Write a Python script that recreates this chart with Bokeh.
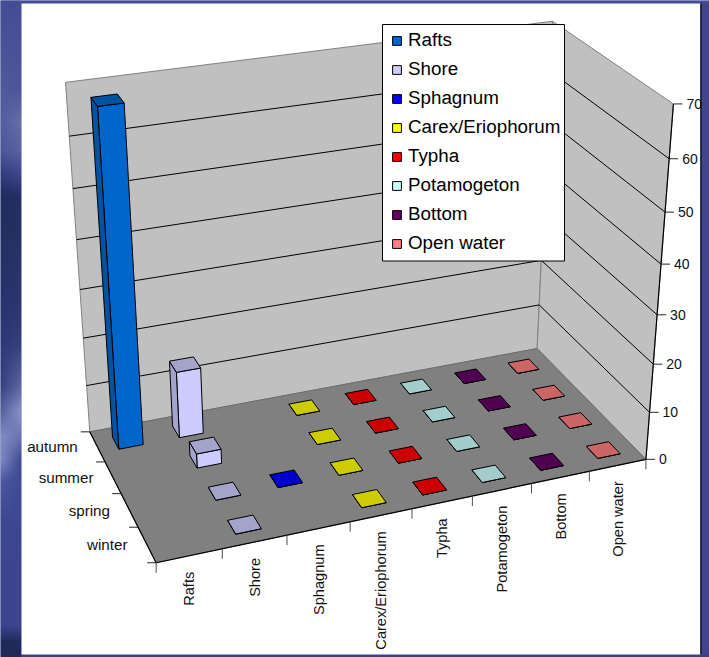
import numpy as np
from bokeh.core.properties import value
from bokeh.embed import file_html
from bokeh.models import ColumnDataSource, Legend, LegendItem, Range1d
from bokeh.plotting import figure
from bokeh.resources import INLINE

# Wetland habitat shares by season; NaN means the bar is absent from the chart.
seasons = ["winter", "spring", "summer", "autumn"]
categories = ["Rafts", "Shore", "Sphagnum", "Carex/Eriophorum", "Typha",
              "Potamogeton", "Bottom", "Open water"]
nan = float("nan")
rafts = [nan, nan, nan, 68]
shore = [0, 0, 3, 14]
sphagnum = [nan, 0, nan, nan]
carex = [0, 0, 0, 0]
typha = [0, 0, 0, 0]
potamogeton = [0, 0, 0, 0]
bottom = [0, 0, 0, 0]
open_water = [0, 0, 0, 0]
series = [rafts, shore, sphagnum, carex, typha, potamogeton, bottom, open_water]

front_colors = ["#0066CC", "#CCCCFF", "#0000FF", "#FFFF00", "#FF0000", "#CCFFFF", "#660066", "#FF8080"]
shade_colors = ["#0052A3", "#A3A3CC", "#0000CC", "#CCCC00", "#CC0000", "#A3CCCC", "#520052", "#CC6666"]
y_ticks = [0, 10, 20, 30, 40, 50, 60, 70]
Y_MAX = 70

# Calibration of the 3D box: (category, season, value) -> page position.
box_model = [(0, 0, 0), (8, 0, 0), (8, 4, 0), (0, 4, 0), (0, 4, Y_MAX), (8, 4, Y_MAX), (8, 0, Y_MAX)]
box_page = [(156, 562.5), (645, 459), (537, 348), (89, 431), (65, 82), (552, 21), (673, 103)]


def fit_camera(model, page):
    rows, rhs = [], []
    for (a, b, c), (x, y) in zip(model, page):
        c = c / Y_MAX * 4
        rows.append([a, b, c, 1, 0, 0, 0, 0, -x * a, -x * b, -x * c])
        rhs.append(x)
        rows.append([0, 0, 0, 0, a, b, c, 1, -y * a, -y * b, -y * c])
        rhs.append(y)
    sol = np.linalg.lstsq(np.array(rows, float), np.array(rhs, float), rcond=None)[0]
    return np.append(sol, 1.0).reshape(3, 4)


CAMERA = fit_camera(box_model, box_page)


def project(a, b, c):
    h = CAMERA @ np.array([a, b, c / Y_MAX * 4, 1.0])
    return float(h[0] / h[2]), float(h[1] / h[2])


def poly(*pts):
    xy = [project(*pt) for pt in pts]
    return [q[0] for q in xy], [q[1] for q in xy]


p = figure(width=709, height=657, output_backend="svg", toolbar_location=None,
           x_range=Range1d(0, 709), y_range=Range1d(657, 0), min_border=0,
           outline_line_color=None, x_axis_type=None, y_axis_type=None)
p.grid.visible = False
p.background_fill_color = "#3c478f"
p.border_fill_color = "#3c478f"

# Slide backdrop: a soft blue wash down the left margin, flat frame elsewhere.
wash_y = [0, 90, 120, 150, 172, 195, 225, 300, 340, 385, 410, 435, 460, 480, 520, 625, 640, 657]
wash_inner = [(0x44, 0x4E, 0x95), (0x4C, 0x57, 0x9A), (0x66, 0x6F, 0xA8), (0x5A, 0x64, 0xA2), (0x3E, 0x49, 0x8E),
              (0x25, 0x2F, 0x66), (0x25, 0x30, 0x62), (0x2A, 0x36, 0x70), (0x33, 0x40, 0x7E), (0x5B, 0x67, 0xA6),
              (0x88, 0x94, 0xC8), (0x68, 0x74, 0xB2), (0x3E, 0x4A, 0x94), (0x3D, 0x49, 0x92), (0x3D, 0x48, 0x92),
              (0x3A, 0x45, 0x8D), (0x20, 0x2B, 0x5C), (0x1E, 0x29, 0x58)]
wash_outer = [(0x42, 0x4C, 0x93), (0x50, 0x5B, 0x9C), (0x55, 0x5F, 0xA0), (0x4C, 0x56, 0x9A), (0x33, 0x3E, 0x80),
              (0x20, 0x2B, 0x5E), (0x24, 0x2F, 0x60), (0x28, 0x33, 0x6C), (0x2D, 0x39, 0x76), (0x36, 0x42, 0x80),
              (0x55, 0x61, 0x9C), (0x80, 0x8C, 0xC2), (0x7C, 0x88, 0xC0), (0x4C, 0x58, 0xA0), (0x3D, 0x48, 0x92),
              (0x3A, 0x45, 0x8D), (0x20, 0x2B, 0x5C), (0x1E, 0x29, 0x58)]
WASH_W, WASH_H = 21, 657
wash = np.zeros((WASH_H, WASH_W), dtype=np.uint32)
rgba = wash.view(np.uint8).reshape(WASH_H, WASH_W, 4)
rows_y = np.arange(WASH_H)
for ch in range(3):
    outer = np.interp(rows_y, wash_y, [c[ch] for c in wash_outer])
    inner = np.interp(rows_y, wash_y, [c[ch] for c in wash_inner])
    mix = np.linspace(0, 1, WASH_W)
    rgba[:, :, ch] = (np.outer(outer, 1 - mix) + np.outer(inner, mix)).astype(np.uint8)
rgba[:, :, 3] = 255
p.image_rgba(image=[wash], x=0, y=0, dw=21, dh=657)

p.quad(left=[0], right=[709], top=[0], bottom=[3], fill_color="#434e96", line_color=None)
p.quad(left=[21], right=[709], top=[654], bottom=[657], fill_color="#37428c", line_color=None)
p.quad(left=[701], right=[709], top=[3], bottom=[654], fill_color="#3c478f", line_color=None)
p.quad(left=[21], right=[700], top=[3], bottom=[654], fill_color="#FFFFFF", line_color=None)
p.segment(x0=[700.5], y0=[3], x1=[700.5], y1=[654], line_color="#14182c", line_width=1.5)

# Walls and floor of the chart box.
wall_edge = "#808080"
wall_xs, wall_ys = zip(
    poly((0, 4, 0), (8, 4, 0), (8, 4, Y_MAX), (0, 4, Y_MAX)),
    poly((8, 4, 0), (8, 0, 0), (8, 0, Y_MAX), (8, 4, Y_MAX)),
)
p.patches(list(wall_xs), list(wall_ys), fill_color="#C0C0C0", line_color=wall_edge, line_width=1)
fx, fy = poly((0, 0, 0), (8, 0, 0), (8, 4, 0), (0, 4, 0))
p.patch(fx, fy, fill_color="#808080", line_color="#6e6e6e", line_width=1)

# Gridlines on both walls.
grid_x0, grid_y0, grid_x1, grid_y1 = [], [], [], []
for t in y_ticks[1:-1]:
    a = project(0, 4, t)
    b = project(8, 4, t)
    c = project(8, 0, t)
    grid_x0 += [a[0], b[0]]
    grid_y0 += [a[1], b[1]]
    grid_x1 += [b[0], c[0]]
    grid_y1 += [b[1], c[1]]
p.segment(grid_x0, grid_y0, grid_x1, grid_y1, line_color="#000000", line_width=1)

# Axis lines.
axis_pts = [((0, 0, 0), (8, 0, 0)), ((0, 0, 0), (0, 4, 0)), ((8, 0, 0), (8, 0, Y_MAX))]
ax0 = [project(*s) for s, _ in axis_pts]
ax1 = [project(*e) for _, e in axis_pts]
p.segment([q[0] for q in ax0], [q[1] for q in ax0], [q[0] for q in ax1], [q[1] for q in ax1],
          line_color="#000000", line_width=1.2)

# Tick marks on the three axes.
TICK = 9
cat_base = [project(i, 0, 0) for i in range(len(categories) + 1)]
p.segment([q[0] for q in cat_base], [q[1] for q in cat_base],
          [q[0] for q in cat_base], [q[1] + TICK + 1 for q in cat_base], line_color="#4d4d4d", line_width=1)
season_base = [project(0, j, 0) for j in range(len(seasons) + 1)]
p.segment([q[0] for q in season_base], [q[1] for q in season_base],
          [q[0] - TICK for q in season_base], [q[1] for q in season_base], line_color="#262626", line_width=1)
value_base = [project(8, 0, t) for t in y_ticks]
p.segment([q[0] for q in value_base], [q[1] for q in value_base],
          [q[0] + TICK for q in value_base], [q[1] for q in value_base], line_color="#262626", line_width=1)

# Bars: each series keeps its faces in one renderer, furthest season first.
BAR_LO, BAR_HI = 0.3, 0.7
legend_items = []
for i, (name, vals) in enumerate(zip(categories, series)):
    xs, ys, colors = [], [], []
    for j in reversed(range(len(seasons))):
        v = vals[j]
        if np.isnan(v):
            continue
        u0, u1 = i + BAR_LO, i + BAR_HI
        w0, w1 = j + BAR_LO, j + BAR_HI
        front = poly((u0, w0, 0), (u1, w0, 0), (u1, w0, v), (u0, w0, v))
        side = poly((u0, w0, 0), (u0, w1, 0), (u0, w1, v), (u0, w0, v))
        top = poly((u0, w0, v), (u1, w0, v), (u1, w1, v), (u0, w1, v))
        for face, color in ((front, front_colors[i]), (side, shade_colors[i]), (top, shade_colors[i])):
            xs.append(face[0])
            ys.append(face[1])
            colors.append(color)
    src = ColumnDataSource(dict(xs=xs, ys=ys, fill=colors))
    r = p.patches("xs", "ys", source=src, fill_color="fill", line_color="#000000", line_width=1)
    legend_items.append(LegendItem(label=name, renderers=[r], index=0))

FONT = value("Liberation Sans")

# Category labels, read bottom to top under the front edge.
cat_anchor = [project(i + 0.5, 0, 0) for i in range(len(categories))]
p.text([q[0] for q in cat_anchor], [q[1] + 16 for q in cat_anchor], text=categories, angle=np.pi / 2,
       text_align="right", text_baseline="middle", text_font=FONT, text_font_size="14.6px", text_color="#111111")

# Season labels along the left edge.
season_anchor = [project(0, j + 0.5, 0) for j in range(len(seasons))]
p.text([q[0] - 19.5 for q in season_anchor], [q[1] for q in season_anchor], text=seasons,
       text_align="right", text_baseline="middle", text_font=FONT, text_font_size="15.2px", text_color="#111111")

# Value labels beside the vertical axis.
p.text([q[0] + 13 for q in value_base], [q[1] for q in value_base], text=[str(t) for t in y_ticks],
       text_align="left", text_baseline="middle", text_font=FONT, text_font_size="14px", text_color="#111111")

# Legend panel sits over the walls; the legend itself only lays out the entries.
p.quad(left=[382], right=[564], top=[24], bottom=[260.5], fill_color="#FFFFFF", line_color="#000000", line_width=1)
legend = Legend(items=legend_items, location=(391, 403), margin=0, padding=6, spacing=7,
                label_height=19, label_width=140, glyph_width=11, glyph_height=11, label_standoff=6,
                label_text_font="Liberation Sans", label_text_font_size="18.8px", label_text_color="#000000",
                border_line_color=None, background_fill_alpha=0.0)
p.add_layout(legend, "center")

open("out.html", "w").write(file_html(p, INLINE))
